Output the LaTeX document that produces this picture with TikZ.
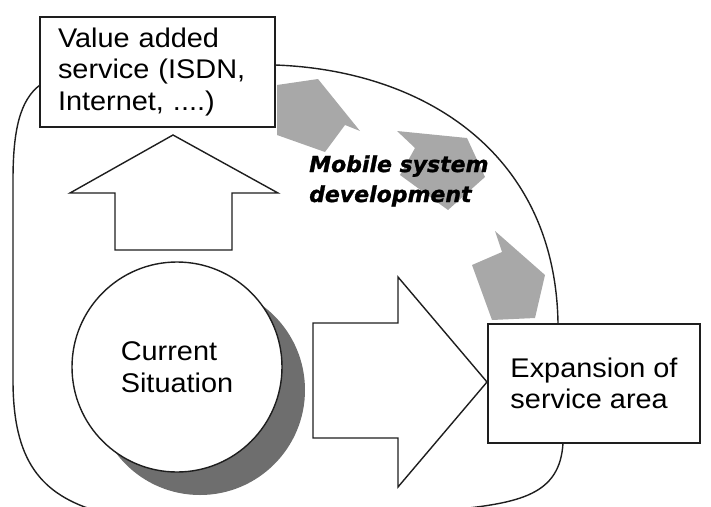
\documentclass[tikz,border=0pt]{standalone}
\usepackage{fontspec}
\setmainfont[FakeStretch=1.07]{Liberation Sans}
\newfontfamily\mobilefont[FakeBold=1.2]{DejaVu Sans Bold Oblique}

\definecolor{linegray}{HTML}{1E1E1E}
\definecolor{shadowgray}{HTML}{6E6E6E}
\definecolor{arrowgray}{HTML}{A8A8A8}

\begin{document}
\begin{tikzpicture}[x=1pt,y=-1pt,
  outline/.style={draw=linegray, line width=1.4pt},
  box/.style={outline, fill=white, rectangle, align=left,
    font=\fontsize{27}{31.5}\selectfont},
  blockarrow/.style={outline, fill=white, line join=miter},
  growth/.style={fill=arrowgray}]

  \clip (0,0) rectangle (711,506);

  % Outline of the development area
  \draw[outline] (275,65) .. controls (420,70) and (555,150) .. (558,323)
    -- (563,443) .. controls (560,495) and (520,503) .. (450,510)
    -- (100,512) .. controls (40,495) and (13,460) .. (13,380)
    -- (13,180) .. controls (13,130) and (20,100) .. (40,85) -- cycle;

  % Grey arrows along the outline
  \fill[growth] (277,85) -- (318,79) -- (360,131) -- (345,125) -- (325,152) -- (277,135) -- cycle;
  \fill[growth] (397,131) -- (467,138) -- (485,177) -- (448,210) -- (400,175) -- (415,148) -- cycle;
  \fill[growth] (495,231) -- (545,275) -- (535,318) -- (492,320) -- (472,265) -- (502,252) -- cycle;

  \node[anchor=base west, align=left, inner sep=0pt,
    font=\mobilefont\fontsize{22}{30}\selectfont] (mobile) at (309,202)
    {Mobile system\\development};

  % Shadow, then the circle on top of it
  \fill[shadowgray] (200,390) circle (105);
  \node[box, circle, minimum size=210pt, inner sep=0pt] (current) at (177,367)
    {Current\\Situation};

  % Boxes
  \node[box, minimum width=235pt, minimum height=110pt, text width=199pt,
    inner xsep=18pt] (value) at (157.5,72) {Value added\\service (ISDN,\\Internet, ....)};
  \node[box, minimum width=212pt, minimum height=119pt] (expansion) at (594,383.5)
    {Expansion of\\service area};

  % Block arrows
  \draw[blockarrow] (173,135) -- (278,193) -- (232,193) -- (232,250)
    -- (115,250) -- (115,193) -- (70,193) -- cycle;
  \draw[blockarrow] (487,382) -- (398,487) -- (398,438) -- (313,438)
    -- (313,323) -- (398,323) -- (398,277) -- cycle;

\end{tikzpicture}
\end{document}
